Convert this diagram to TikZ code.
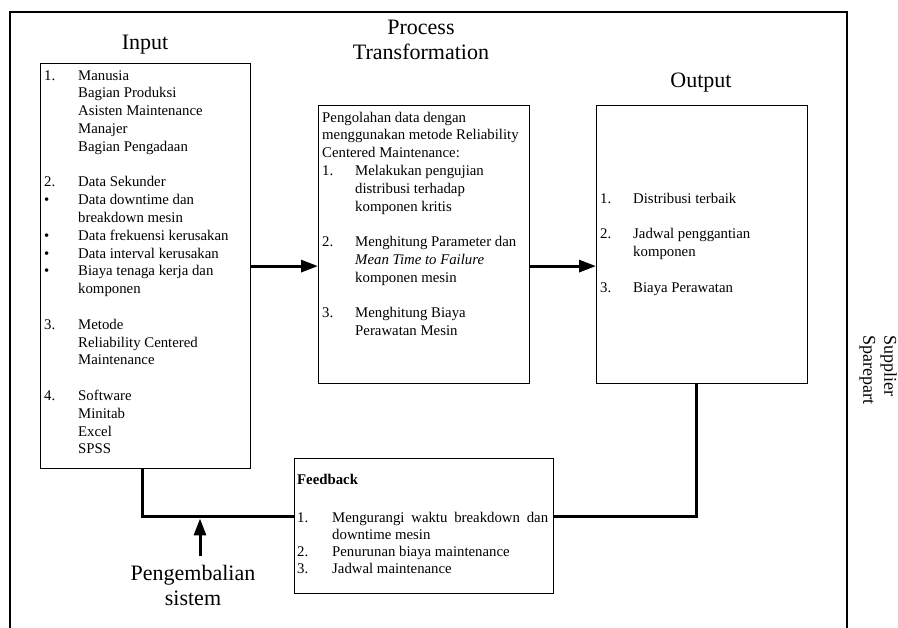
\documentclass[tikz,border=0pt]{standalone}
\usepackage{fontspec}
\setmainfont{Liberation Serif}
\usetikzlibrary{arrows.meta,positioning}

\tikzset{
  box/.style={draw, line width=1.2pt, inner sep=0pt, anchor=north west},
  heading/.style={font=\fontsize{22}{25}\selectfont, inner sep=0pt},
  body/.style={font=\fontsize{14.8}{17.8}\selectfont, inner sep=0pt, anchor=north west},
  flow/.style={line width=3pt, -{Triangle[length=17pt,width=12pt]}},
  backline/.style={line width=3pt},
}

\begin{document}
\begin{tikzpicture}[x=1pt, y=-1pt]
            \useasboundingbox (0,0) rectangle (898,628);
            % Outer frame, open at the bottom
            \draw [line width=2pt] (10,12) rectangle (847,650);

            % The four boxes
            \node [box, minimum width=210pt, minimum height=405pt] (input) at (40,63) {};
            \node [box, minimum width=211pt, minimum height=278pt] (process) at (318,105) {};
            \node [box, minimum width=211pt, minimum height=278pt] (output) at (596,105) {};
            \node [box, minimum width=259pt, minimum height=135pt] (feedback) at (294,458) {};

            % Headings above the boxes
            \node [heading, anchor=base] (inputtitle) at (145,50) {Input};
            \node [heading, anchor=north, align=center] (processtitle) at (421,20) {Process\\Transformation};
            \node [heading, anchor=base] (outputtitle) at (701,88) {Output};

            % Contents of the boxes
            \node [body] (inputtext) at (44,67.5) {%
              \begin{tabular}{@{}p{34pt}@{}l@{}}
                1. & Manusia\\
                   & Bagian Produksi\\
                   & Asisten Maintenance\\
                   & Manajer\\
                   & Bagian Pengadaan\\
                   & \\
                2. & Data Sekunder\\
                \textbullet & Data downtime dan\\
                   & breakdown mesin\\
                \textbullet & Data frekuensi kerusakan\\
                \textbullet & Data interval kerusakan\\
                \textbullet & Biaya tenaga kerja dan\\
                   & komponen\\
                   & \\
                3. & Metode\\
                   & Reliability Centered\\
                   & Maintenance\\
                   & \\
                4. & Software\\
                   & Minitab\\
                   & Excel\\
                   & SPSS
              \end{tabular}};
            \node [body] (processtext) at (322,109.5) {%
              \begin{tabular}{@{}p{33pt}@{}l@{}}
                \multicolumn{2}{@{}l@{}}{Pengolahan data dengan}\\
                \multicolumn{2}{@{}l@{}}{menggunakan metode Reliability}\\
                \multicolumn{2}{@{}l@{}}{Centered Maintenance:}\\
                1. & Melakukan pengujian\\
                   & distribusi terhadap\\
                   & komponen kritis\\
                   & \\
                2. & Menghitung Parameter dan\\
                   & \textit{Mean Time to Failure}\\
                   & komponen mesin\\
                   & \\
                3. & Menghitung Biaya\\
                   & Perawatan Mesin
              \end{tabular}};
            \node [body] (outputtext) at (600,190.5) {%
              \begin{tabular}{@{}p{33pt}@{}l@{}}
                1. & Distribusi terbaik\\
                   & \\
                2. & Jadwal penggantian\\
                   & komponen\\
                   & \\
                3. & Biaya Perawatan
              \end{tabular}};
            \node [body, font=\fontsize{14.8}{16.8}\selectfont] (feedbacktext) at (297,473) {%
              \begin{tabular}{@{}p{35pt}@{}l@{}}
                \multicolumn{2}{@{}l@{}}{\textbf{Feedback}}\\[21pt]
                1. & \makebox[216pt][s]{Mengurangi waktu breakdown dan}\\
                   & downtime mesin\\
                2. & Penurunan biaya maintenance\\
                3. & Jadwal maintenance
              \end{tabular}};

            % Side label and the label under the loop
            \node [inner sep=0pt, anchor=north west, rotate=-90, align=left,
                   font=\fontsize{18}{21}\selectfont] (supplier) at (897,335) {Supplier\\Sparepart};
            \node [heading, anchor=north, align=center] (sysback) at (193,565) {Pengembalian\\sistem};

            % Main flow
            \draw [flow] (input.east) -- (input.east -| process.west);
            \draw [flow] (process.east |- input.east) -- (output.west |- input.east);

            % Feedback loop back to the input
            \coordinate (fbrow) at (0,517);
            \coordinate (backtail) at (200,556);
            \draw [backline] ([xshift=-6pt]output.south) |- (feedback.east |- fbrow);
            \draw [backline] (feedback.west |- fbrow) -| ([xshift=-3pt]input.south);
            \draw [flow, shorten >=1.5pt] (backtail) -- (backtail |- fbrow);
\end{tikzpicture}
\end{document}
